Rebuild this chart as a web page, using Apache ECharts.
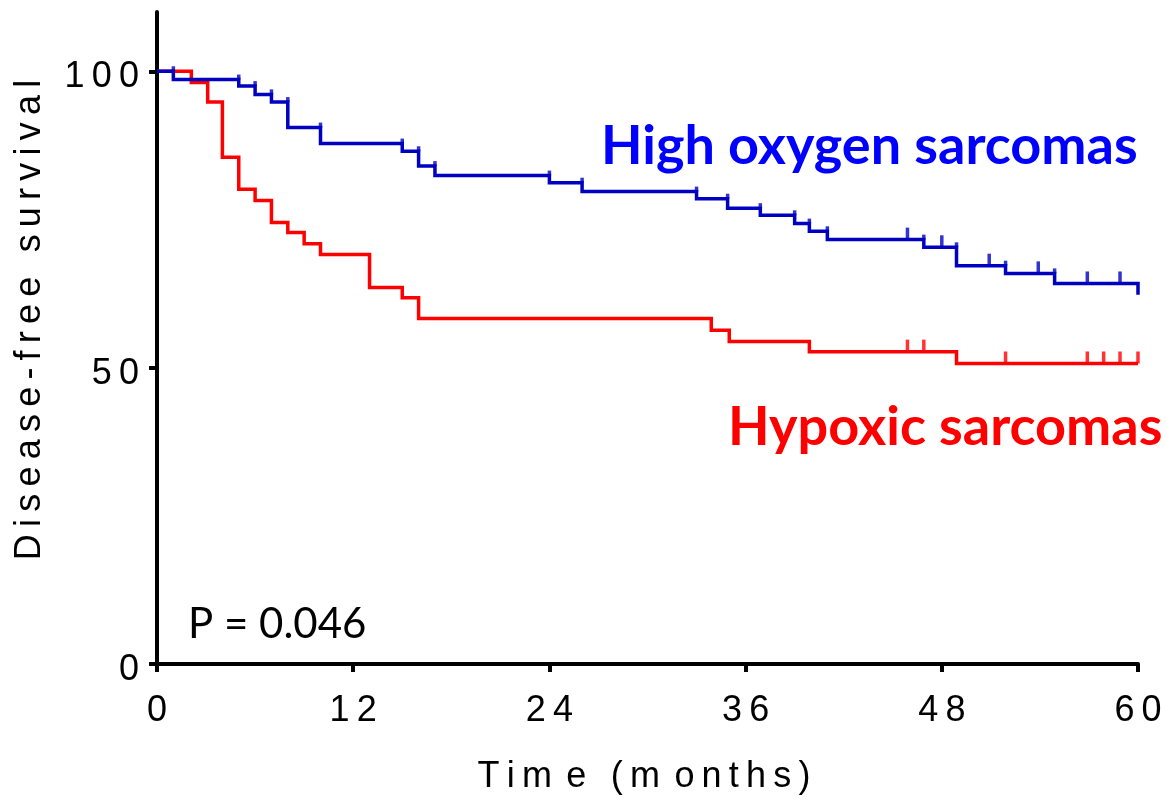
<!DOCTYPE html>
<html><head><meta charset="utf-8">
<script src="https://cdn.jsdelivr.net/npm/echarts@6/dist/echarts.min.js"></script>
<style>html,body{margin:0;padding:0;background:#fff}#c{width:1167px;height:798px}</style>
</head><body><div id="c"></div>
<script>
// Kaplan-Meier steps: time (months) of each drop and survival (%) after it
const blueTimes = [0, 1.0, 5.0, 6.0, 7.0, 8.0, 10.0, 15.0, 16.0, 17.0, 24.0, 26.0, 33.0, 34.9, 36.9, 39.0, 39.9, 41.0, 46.9, 48.9, 51.9, 54.9, 60.0];
const blueSurv  = [100, 98.6, 97.5, 96.1, 94.8, 90.5, 87.8, 86.5, 84.0, 82.4, 81.2, 79.7, 78.5, 76.9, 75.7, 74.3, 73.0, 71.6, 70.3, 67.2, 65.9, 64.2, 62.3];
const blueCensor = [45.9, 48.0, 50.9, 53.9, 56.9, 58.9];

const redTimes = [0, 2.1, 3.1, 4.0, 5.0, 6.0, 7.0, 8.0, 9.0, 10.0, 13.0, 15.0, 16.0, 33.9, 35.0, 39.9, 48.9, 60.0];
const redSurv  = [100, 98.1, 94.8, 85.5, 80.1, 78.2, 74.5, 72.8, 70.9, 69.1, 63.5, 61.8, 58.3, 56.3, 54.4, 52.7, 50.7, 50.7];
const redCensor = [45.9, 46.9, 51.9, 56.9, 57.9, 58.9, 60.0];

const xTicks = [0, 12, 24, 36, 48, 60];
const yTicks = [0, 50, 100];

const blueLabel = 'High oxygen sarcomas';
const redLabel = 'Hypoxic sarcomas';
const pLabel = 'P = 0.046';
const xTitle = 'Time (months)';
const yTitle = 'Disease-free survival';

function stepValue(times, surv, t) {
  let v = surv[0];
  for (let i = 0; i < times.length; i++) if (times[i] <= t) v = surv[i];
  return v;
}
const pairs = (t, s) => t.map((x, i) => [x, s[i]]);
const censorPts = (c, t, s) => c.map(x => [x, stepValue(t, s, x)]);
const bluePts = pairs(blueTimes, blueSurv);
const redPts = pairs(redTimes, redSurv);
const blueNotches = [];
for (let i = 1; i < blueTimes.length - 1; i++) blueNotches.push([blueTimes[i], blueSurv[i - 1]]);

const THIN = '\u2009';
const spaced = (s, sep) => s.split('').join(sep);

const BLUE_LINE = '#0000c0';
const RED = '#ff0000';

const chart = echarts.init(document.getElementById('c'), null, {renderer: 'canvas'});
chart.setOption({
  animation: false,
  backgroundColor: '#fff',
  grid: {left: 157, right: 29, top: 12, bottom: 134},
  xAxis: {
    type: 'value', min: 0, max: 60, interval: 12,
    axisLine: {show: true, lineStyle: {color: '#000', width: 4}},
    axisTick: {show: true, length: 8, lineStyle: {color: '#000', width: 4}},
    splitLine: {show: false},
    axisLabel: {
      margin: 29, color: '#000', fontSize: 36, fontFamily: 'Liberation Sans',
      formatter: v => xTicks.includes(v) ? spaced(String(v), THIN) : ''
    }
  },
  yAxis: {
    type: 'value', min: 0, max: 110,
    axisLine: {show: true, lineStyle: {color: '#000', width: 4}},
    axisTick: {show: true, length: 8, customValues: yTicks, lineStyle: {color: '#000', width: 4}},
    splitLine: {show: false},
    axisLabel: {
      margin: 18, color: '#000', fontSize: 36, fontFamily: 'Liberation Sans',
      customValues: yTicks, verticalAlign: 'top', lineHeight: 12,
      formatter: v => spaced(String(v), THIN)
    }
  },
  series: [
    {type: 'line', step: 'end', data: redPts, showSymbol: false, clip: false,
     lineStyle: {color: RED, width: 3.5, join: 'miter'}, z: 3},
    {type: 'line', step: 'end', data: bluePts, showSymbol: false, clip: false,
     lineStyle: {color: BLUE_LINE, width: 3.5, join: 'miter'}, z: 4},
    {type: 'scatter', data: censorPts(redCensor, redTimes, redSurv), clip: false,
     symbol: 'rect', symbolSize: [3.5, 12], symbolOffset: [0, -6],
     itemStyle: {color: RED}, z: 5},
    {type: 'scatter', data: censorPts(blueCensor, blueTimes, blueSurv), clip: false,
     symbol: 'rect', symbolSize: [3.5, 12], symbolOffset: [0, -6],
     itemStyle: {color: BLUE_LINE}, z: 5},
    {type: 'scatter', data: blueNotches, clip: false,
     symbol: 'rect', symbolSize: [3.5, 5], symbolOffset: [0, -2.5],
     itemStyle: {color: BLUE_LINE}, z: 5}
  ],
  graphic: [
    {type: 'text', x: 601, y: 146.6, style: {text: blueLabel, font: 'bold 54px Lato', fill: '#0000ff',
      align: 'left', verticalAlign: 'middle', textAlign: 'left', textVerticalAlign: 'middle'}},
    {type: 'text', x: 728, y: 427.6, style: {text: redLabel, font: 'bold 54px Lato', fill: RED,
      align: 'left', verticalAlign: 'middle', textAlign: 'left', textVerticalAlign: 'middle'}},
    {type: 'text', x: 188, y: 624.5, style: {text: pLabel, font: '42px Lato', fill: '#000',
      align: 'left', verticalAlign: 'middle', textAlign: 'left', textVerticalAlign: 'middle'}},
    {type: 'text', x: 644, y: 776.7, style: {text: spaced(xTitle, THIN).replace(/m\u2009/g, 'm\u2009\u2009'),
      font: '36px "Liberation Sans"', fill: '#000',
      align: 'center', verticalAlign: 'middle', textAlign: 'center', textVerticalAlign: 'middle'}},
    {type: 'text', x: 30, y: 320, rotation: Math.PI / 2, style: {text: spaced(yTitle, THIN),
      font: '36px "Liberation Sans"', fill: '#000',
      align: 'center', verticalAlign: 'middle', textAlign: 'center', textVerticalAlign: 'middle'}}
  ]
});
</script></body></html>
